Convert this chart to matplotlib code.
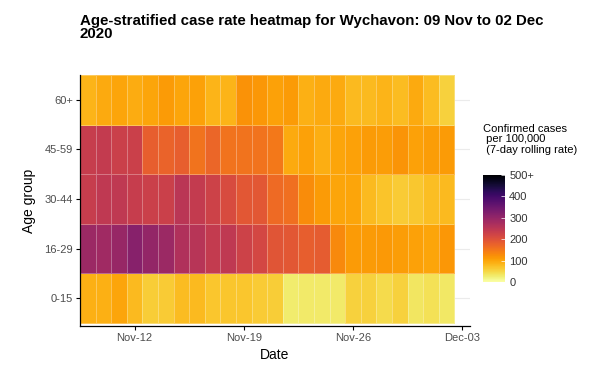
import matplotlib
matplotlib.use("Agg")
import matplotlib.pyplot as plt
import matplotlib.dates as mdates
import numpy as np
import pandas as pd

plt.rcParams['font.family'] = ['Liberation Sans', 'DejaVu Sans']

dates = pd.date_range("2020-11-09", "2020-12-02", freq="D")
age_groups = ["0-15", "16-29", "30-44", "45-59", "60+"]

# 7-day rolling case rate per 100,000, one list per age group
rate_0_15 = [88, 88, 100, 80, 60, 62, 78, 80, 68, 68, 68, 62, 60, 28, 30, 30,
             30, 55, 55, 45, 55, 35, 40, 32]
rate_16_29 = [290, 285, 295, 315, 300, 290, 265, 255, 240, 245, 225, 215, 195, 190, 180, 185,
              130, 110, 110, 112, 108, 105, 100, 115]
rate_30_44 = [235, 245, 245, 235, 230, 230, 250, 240, 225, 210, 190, 190, 165, 160, 125, 110,
              100, 100, 80, 70, 62, 65, 75, 80]
rate_45_59 = [235, 240, 230, 230, 180, 175, 180, 155, 170, 155, 155, 155, 150, 95, 105, 90,
              100, 105, 110, 108, 118, 105, 108, 110]
rate_60 = [85, 95, 100, 92, 100, 110, 100, 105, 85, 85, 120, 115, 105, 110, 88, 95,
           95, 80, 80, 85, 78, 95, 78, 55]

rates = np.array([rate_0_15, rate_16_29, rate_30_44, rate_45_59, rate_60])

fig = plt.figure(figsize=(5.89, 3.72), dpi=100)
ax = fig.add_axes([0.1358, 0.1237, 0.662, 0.675])

xn = mdates.date2num(dates)
x_edges = np.append(xn - 0.5, xn[-1] + 0.5)
y_edges = np.arange(len(age_groups) + 1) - 0.5

for i in range(len(age_groups)):
    ax.axhline(i, color='#ebebeb', lw=0.8, zorder=0)

mesh = ax.pcolormesh(x_edges, y_edges, rates, cmap='inferno_r', vmin=0, vmax=500,
                     edgecolors=(1, 1, 1, 0.3), linewidth=0.6, zorder=1)

ax.set_xlim(xn[0] - 0.5, xn[-1] + 1.5)
ax.set_ylim(-0.56, 4.5)
ax.xaxis.set_major_locator(mdates.WeekdayLocator(byweekday=mdates.TH))
ax.xaxis.set_major_formatter(mdates.DateFormatter('%b-%d'))
ax.set_yticks(range(len(age_groups)))
ax.set_yticklabels(age_groups)
ax.tick_params(labelsize=8, labelcolor='#4d4d4d', length=3, width=0.8, pad=2)
for s in ['top', 'right']:
    ax.spines[s].set_visible(False)
for s in ['left', 'bottom']:
    ax.spines[s].set_linewidth(0.9)
ax.set_xlabel("Date", fontsize=10, labelpad=4)
ax.set_ylabel("Age group", fontsize=10, labelpad=6)

fig.text(0.1358, 0.962, "Age-stratified case rate heatmap for Wychavon: 09 Nov to 02 Dec\n2020",
         fontsize=10.8, fontweight='bold', va='top', ha='left', linespacing=0.88)

cax = fig.add_axes([0.820, 0.242, 0.0374, 0.288])
cb = fig.colorbar(mesh, cax=cax)
cb.outline.set_visible(False)
cb.set_ticks([0, 100, 200, 300, 400, 500])
cb.set_ticklabels(["0", "100", "200", "300", "400", "500+"])
cb.ax.tick_params(labelsize=8, labelcolor='#333333', length=3, width=0.5, color='white', direction='in', pad=3)
fig.text(0.820, 0.583, "Confirmed cases\n per 100,000\n (7-day rolling rate)",
         fontsize=8, va='bottom', ha='left', linespacing=1.1)

fig.savefig("out.png", dpi=100)
